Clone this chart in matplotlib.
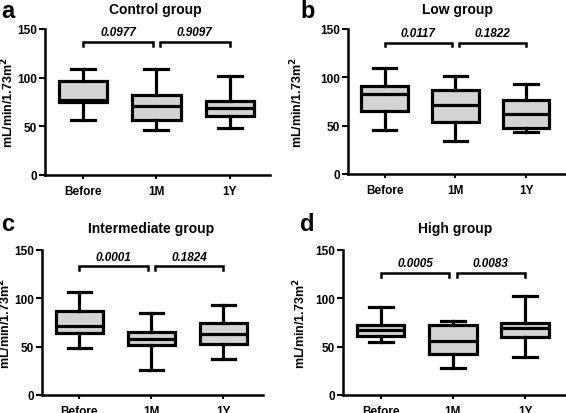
import matplotlib
matplotlib.use("Agg")
import matplotlib.pyplot as plt

plt.rcParams['font.family'] = ['Liberation Sans', 'DejaVu Sans']
plt.rcParams['font.weight'] = 'bold'
plt.rcParams['mathtext.default'] = 'bf'

# values (mL/min/1.73m2)
categories = ["Before", "1M", "1Y"]
titles = ["Control group", "Low group", "Intermediate group", "High group"]
letters = ["a", "b", "c", "d"]
pvalues = [["0.0977", "0.9097"], ["0.0117", "0.1822"],
           ["0.0001", "0.1824"], ["0.0005", "0.0083"]]

whislo = [[57, 46, 48], [46, 34, 43], [49, 26, 37.5], [54.5, 28, 39]]
q1 = [[75, 57, 61], [65, 54, 48], [64.5, 52, 52.5], [60.7, 42.3, 60]]
med = [[77, 71, 68.5], [83, 71, 62], [71, 58, 63], [67.5, 56, 69]]
q3 = [[97, 82, 76], [91, 87, 77], [87, 65, 74], [72.6, 72, 74.6]]
whishi = [[109, 109, 102], [110, 101, 93], [107, 85, 93], [91, 76.4, 102]]
bracket_y = [137, 136, 133, 126]

W, H = 566, 414
fig = plt.figure(figsize=(W / 100, H / 100), dpi=100)

# axes boxes in pixels: left, right, top, bottom
boxes = [(45, 270, 30, 176), (348, 565, 30, 175),
         (42, 263, 251, 396), (343, 565, 251, 396)]
title_pos = [(155, 10), (457, 10), (151, 229), (455, 229)]
letter_pos = [(1, 12), (300, 12), (1, 225), (300, 225)]
ylab_x = [8, 297, 5, 300]

for i in range(4):
    l, r, t, b = boxes[i]
    ax = fig.add_axes([l / W, (H - b) / H, (r - l) / W, (b - t) / H])
    stats = []
    for j in range(3):
        stats.append(dict(whislo=whislo[i][j], q1=q1[i][j], med=med[i][j],
                          q3=q3[i][j], whishi=whishi[i][j], fliers=[]))
    ax.bxp(stats, positions=[0, 1, 2], widths=0.66, patch_artist=True,
           showfliers=False,
           boxprops=dict(facecolor="#d4d4d4", edgecolor="black", linewidth=2.3),
           medianprops=dict(color="black", linewidth=2.3),
           whiskerprops=dict(color="black", linewidth=2.3),
           capprops=dict(color="black", linewidth=2.3),
           capwidths=0.33)
    ax.set_xlim(-0.52, 2.55)
    ax.set_ylim(0, 150)
    ax.set_yticks([0, 50, 100, 150])
    ax.set_xticks([0, 1, 2])
    ax.set_xticklabels(categories, fontsize=8.5, fontweight="bold")
    ax.tick_params(axis="y", labelsize=8.5, width=1.5, length=4, pad=2)
    ax.tick_params(axis="x", width=1.5, length=3, pad=4.5)
    for lab in ax.get_yticklabels():
        lab.set_fontweight("bold")
    ax.spines["top"].set_visible(False)
    ax.spines["right"].set_visible(False)
    ax.spines["left"].set_linewidth(1.8)
    ax.spines["bottom"].set_linewidth(1.8)

    # significance brackets
    by = bracket_y[i]
    for (x0, x1), p in zip([(0, 0.95), (1.05, 2)], pvalues[i]):
        ax.plot([x0, x0, x1, x1], [by - 4, by, by, by - 4], color="black",
                lw=1.8, clip_on=False, solid_joinstyle="miter")
        ax.text((x0 + x1) / 2, by + 4, p, ha="center", va="bottom",
                fontsize=8.5, fontweight="bold", style="italic")

    fig.text(title_pos[i][0] / W, 1 - title_pos[i][1] / H, titles[i],
             ha="center", va="center", fontsize=10, fontweight="bold")
    fig.text(letter_pos[i][0] / W, 1 - letter_pos[i][1] / H, letters[i],
             ha="left", va="center", fontsize=17, fontweight="bold")
    fig.text(ylab_x[i] / W, 1 - ((t + b) / 2) / H, "mL/min/1.73m$^2$",
             rotation=90, ha="center", va="center", fontsize=9,
             fontweight="bold")

fig.savefig("out.png", dpi=100)
